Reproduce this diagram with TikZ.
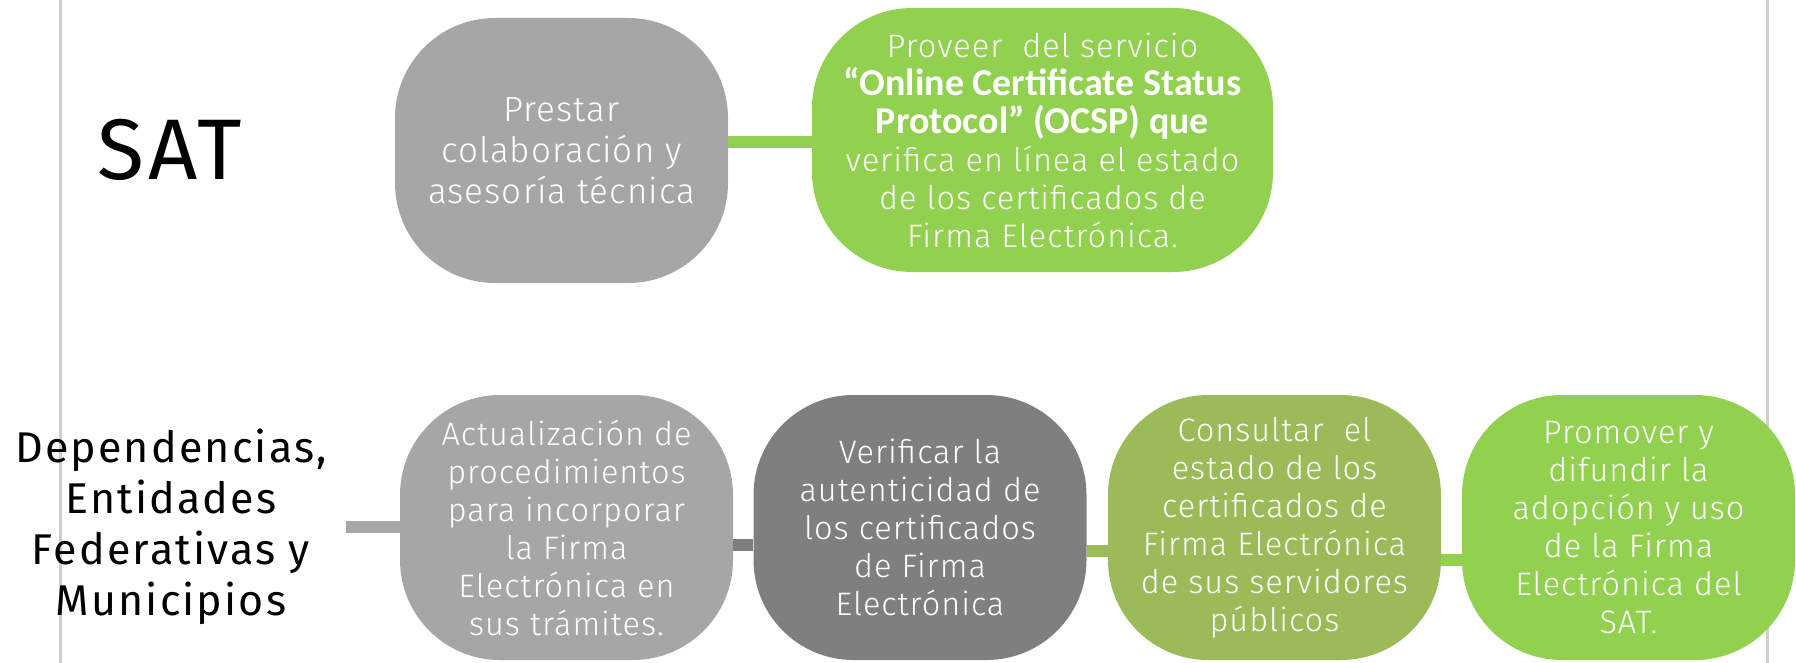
\documentclass[tikz,border=0pt]{standalone}
\usepackage{fontspec}
\IfFontExistsTF{Fira Sans Light}{\newfontfamily\boxfont[LetterSpace=3]{Fira Sans Light}}{\newfontfamily\boxfont[LetterSpace=3]{Fira Sans}}
\newfontfamily\labfont[LetterSpace=5]{Fira Sans}
\newfontfamily\boldfont{Carlito}
\definecolor{lgray}{HTML}{A6A6A6}
\definecolor{dgray}{HTML}{7F7F7F}
\definecolor{olive}{HTML}{9BBB59}
\definecolor{lgreen}{HTML}{92D050}
\definecolor{rulec}{HTML}{CFCFCF}
\tikzset{
  pill/.style={rounded corners=100pt, inner sep=0pt, minimum width=333pt, minimum height=265pt,
    align=center, text=white, font=\boxfont\fontsize{32.5}{38}\selectfont},
  conn/.style={line width=12pt},
  vrule/.style={draw=rulec, line width=3pt}
}
\begin{document}
\begin{tikzpicture}[x=1pt,y=-1pt]
\useasboundingbox (0,0) rectangle (1796,663);
% vertical rules
\coordinate (v1a) at (60,0); \coordinate (v1b) at (60,663);
\coordinate (v2a) at (1767,0); \coordinate (v2b) at (1767,663);
\draw[vrule] (v1a) -- (v1b);
\draw[vrule] (v2a) -- (v2b);
% labels
\node[font=\labfont\fontsize{86}{96}\selectfont] (sat) at (170,150) {SAT};
\node[align=center, font=\labfont\fontsize{43}{51}\selectfont] (dep) at (171,527)
  {Dependencias,\\Entidades\\Federativas y\\Municipios};
% top row
\node[pill, fill=lgray, font=\boxfont\fontsize{35}{41}\selectfont] (t1) at (561.5,150.5)
  {Prestar\\colaboración y\\asesoría técnica};
\node[pill, fill=lgreen, minimum width=461pt, minimum height=264pt] (t2) at (1042.5,140)
  {Proveer \ del servicio\\{\boldfont\bfseries\fontsize{38}{38}\selectfont “Online Certificate Status}\\{\boldfont\bfseries\fontsize{38}{38}\selectfont Protocol” (OCSP) que}\\verifica en línea el estado\\de los certificados de\\Firma Electrónica.};
% bottom row
\node[pill, fill=lgray] (b1) at (566.5,527.5)
  {Actualización de\\procedimientos\\para incorporar\\la Firma\\Electrónica en\\sus trámites.};
\node[pill, fill=dgray] (b2) at (920,527.5)
  {Verificar la\\autenticidad de\\los certificados\\de Firma\\Electrónica};
\node[pill, fill=olive] (b3) at (1274.5,527.5)
  {Consultar \ el\\estado de los\\certificados de\\Firma Electrónica\\de sus servidores\\públicos};
\node[pill, fill=lgreen] (b4) at (1628.5,527.5)
  {Promover y\\difundir la\\adopción y uso\\de la Firma\\Electrónica del\\SAT.};
% connectors
\draw[conn, draw=lgreen] ([yshift=8.5pt]t1.east) -- ([yshift=8.5pt]t1.east -| t2.west);
\coordinate (l0) at (346,527);
\draw[conn, draw=lgray] (l0) -- (l0 -| b1.west);
\draw[conn, draw=dgray] ([yshift=-17pt]b1.east) -- ([yshift=-17pt]b2.west);
\draw[conn, draw=olive] ([yshift=-23pt]b2.east) -- ([yshift=-23pt]b3.west);
\draw[conn, draw=lgreen] ([yshift=-32pt]b3.east) -- ([yshift=-32pt]b4.west);
\end{tikzpicture}
\end{document}
